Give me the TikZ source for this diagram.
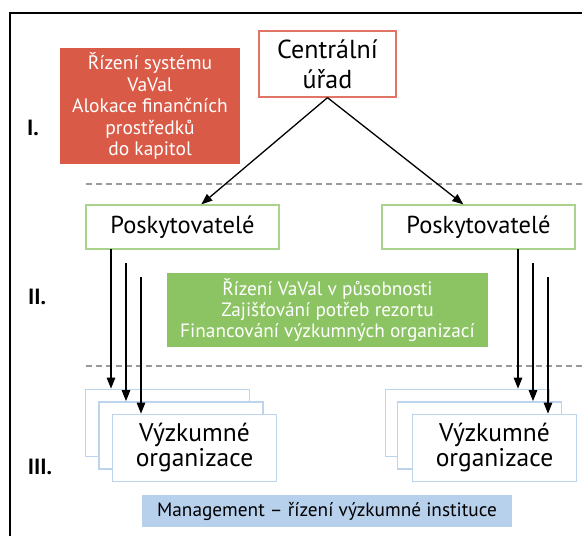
\documentclass[tikz,border=0pt]{standalone}
\usepackage{fontspec}
\setmainfont{PT Sans}
\usetikzlibrary{arrows.meta,calc}
\definecolor{redfill}{HTML}{D95A47}
\definecolor{redline}{HTML}{E07565}
\definecolor{greenfill}{HTML}{8CC464}
\definecolor{greenline}{HTML}{A9D38C}
\definecolor{blueline}{HTML}{BCD4EE}
\definecolor{bluefill}{HTML}{B7D0EC}
\definecolor{dashgray}{HTML}{9A9A9A}
\begin{document}
\begin{tikzpicture}[x=1pt,y=-1pt,
  box/.style={rectangle,draw,line width=1.3pt,inner sep=0pt,align=center,fill=white},
  fillbox/.style={rectangle,inner sep=0pt,align=center,text=white},
  arr/.style={line width=1.3pt,-{Triangle[length=11pt,width=8.5pt]}},
  sep/.style={dashgray,line width=1.2pt,dash pattern=on 6pt off 4pt},
  lvl/.style={font=\fontsize{22}{26}\selectfont\bfseries}]
\useasboundingbox (0,0) rectangle (582,536);
\draw[line width=1.5pt] (10,545) -- (10,13) -- (590,13);
% separators
\draw[sep] (86,184) -- (590,184);
\draw[sep] (86,366) -- (590,366);
% level labels
\node[lvl] (l1) at (33,128) {I.};
\node[lvl] (l2) at (37,297) {II.};
\node[lvl] (l3) at (40,467) {III.};
% top
\node[box,draw=redline,minimum width=137pt,minimum height=66pt,font=\fontsize{26}{30}\selectfont] (c) at (327.5,64) {Centrální\\úřad};
\node[fillbox,fill=redfill,minimum width=180pt,minimum height=116pt,font=\fontsize{19.5}{21.5}\selectfont] (r) at (150,106) {Řízení systému\\VaVal\\Alokace finančních\\prostředků\\do kapitol};
% providers
\node[box,draw=greenline,minimum width=193pt,minimum height=44pt,font=\fontsize{24.5}{26}\selectfont] (pl) at (182.5,227) {Poskytovatelé};
\node[box,draw=greenline,minimum width=193pt,minimum height=44pt,font=\fontsize{24.5}{26}\selectfont] (pr) at (478.5,227) {Poskytovatelé};
\node[fillbox,fill=greenfill,minimum width=321pt,minimum height=74pt,font=\fontsize{19.3}{21}\selectfont] (g) at (327.5,310) {Řízení VaVal v působnosti\\Zajišťování potřeb rezortu\\Financování výzkumných organizací};
% arrows from central
\coordinate (ct) at (c.south);
\draw[arr] (ct) -- ($(pl.north west)+(116,0)$);
\draw[arr] (ct) -- ($(pr.north west)+(82,0)$);
% stacks
\tikzset{org/.style={box,draw=blueline,line width=1.7pt,minimum width=164pt,minimum height=67pt,font=\fontsize{25.5}{25}\selectfont}}
\node[org] (la) at (167.5,423) {};
\node[org] (lb) at (181,435.5) {};
\node[org] (lc) at (194.5,448) {Výzkumné\\organizace};
\node[org] (ra) at (467.5,423) {};
\node[org] (rb) at (479.5,435.5) {};
\node[org] (rc) at (494.5,448) {Výzkumné\\organizace};
% provider arrows
\coordinate (ls1) at (111,249);
\coordinate (ls2) at (126,263);
\coordinate (ls3) at (141,277);
\draw[arr] (ls1) -- (ls1 |- la.north);
\draw[arr] (ls2) -- (ls2 |- lb.north);
\draw[arr] (ls3) -- (ls3 |- lc.north);
\coordinate (rs1) at (518,249);
\coordinate (rs2) at (533,263);
\coordinate (rs3) at (548,277);
\draw[arr] (rs1) -- (rs1 |- ra.north);
\draw[arr] (rs2) -- (rs2 |- rb.north);
\draw[arr] (rs3) -- (rs3 |- rc.north);
% management
\node[fillbox,fill=bluefill,text=black,minimum width=370pt,minimum height=32pt,font=\fontsize{19.3}{20}\selectfont] (m) at (327,511) {Management – řízení výzkumné instituce};
\end{tikzpicture}
\end{document}
